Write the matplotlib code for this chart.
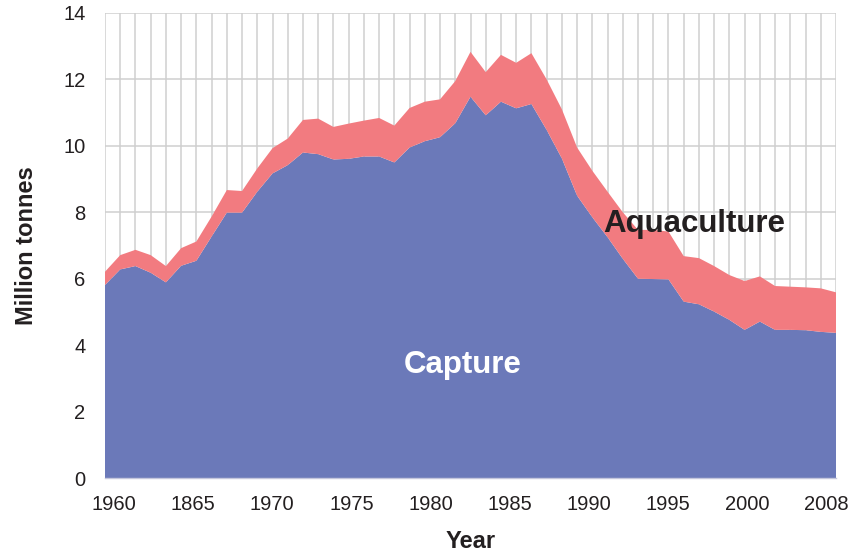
import numpy as np
import matplotlib
matplotlib.use("Agg")
import matplotlib.pyplot as plt

plt.rcParams['font.family'] = ['Liberation Sans', 'DejaVu Sans']

years = list(range(1960, 2009))
capture = [5.81, 6.28, 6.38, 6.18, 5.89, 6.39, 6.54, 7.27, 7.99, 7.99,
           8.62, 9.17, 9.42, 9.80, 9.75, 9.59, 9.61, 9.68, 9.68, 9.50,
           9.95, 10.14, 10.26, 10.68, 11.48, 10.92, 11.33, 11.13, 11.26, 10.48,
           9.62, 8.50, 7.85, 7.25, 6.60, 6.00, 5.99, 5.98, 5.31, 5.23,
           5.01, 4.76, 4.46, 4.71, 4.46, 4.46, 4.45, 4.40, 4.37]
aquaculture = [0.40, 0.43, 0.49, 0.53, 0.49, 0.53, 0.58, 0.60, 0.68, 0.65,
               0.70, 0.76, 0.80, 0.98, 1.07, 0.98, 1.06, 1.08, 1.16, 1.11,
               1.19, 1.19, 1.14, 1.27, 1.35, 1.30, 1.41, 1.37, 1.53, 1.52,
               1.48, 1.45, 1.40, 1.37, 1.40, 1.47, 1.48, 1.44, 1.37, 1.39,
               1.37, 1.35, 1.47, 1.36, 1.32, 1.30, 1.29, 1.31, 1.22]
x_tick_labels = ["1960", "1865", "1970", "1975", "1980", "1985",
                 "1990", "1995", "2000", "2008"]
y_ticks = [0, 2, 4, 6, 8, 10, 12, 14]

blue = "#6b79b9"
pink = "#f27b80"
grid_c = "#cfcfcf"
text_c = "#231f20"

fig = plt.figure(figsize=(8.55, 5.54), dpi=100)
ax = fig.add_axes([105/855, 1 - 478/554, (836-105)/855, (478-13)/554])

ax.stackplot(years, capture, aquaculture, colors=[blue, pink], linewidth=0, zorder=2)

ax.set_xlim(1960, 2008)
ax.set_ylim(0, 14)

# grid
ax.set_xticks(years, minor=True)
ax.grid(True, which='minor', axis='x', color=grid_c, lw=1.1, zorder=0)
ax.set_yticks(y_ticks)
ax.grid(True, which='major', axis='y', color=grid_c, lw=1.1, zorder=0)
ax.set_axisbelow(True)

xt = np.linspace(1960.57, 2007.39, len(x_tick_labels))
ax.set_xticks(xt)
ax.set_xticklabels(x_tick_labels)
ax.tick_params(axis='x', which='both', length=0, pad=12, labelsize=14.5, labelcolor=text_c)
ax.tick_params(axis='y', which='both', length=0, pad=14, labelsize=14.5, labelcolor=text_c)

for s in ['top', 'right', 'left']:
    ax.spines[s].set_visible(False)
ax.spines['bottom'].set_color("#c4c6dc")
ax.spines['bottom'].set_linewidth(1.0)
ax.spines['bottom'].set_zorder(3)

ax.set_xlabel("Year", fontsize=17, fontweight='bold', color=text_c, labelpad=12)
ax.set_ylabel("Million tonnes", fontsize=17, fontweight='bold', color=text_c, labelpad=18)

ax.text(1998.70, 7.42, "Aquaculture", fontsize=22.5, fontweight='bold',
        color=text_c, ha='center', va='baseline', zorder=5)
ax.text(1983.47, 3.15, "Capture", fontsize=22.5, fontweight='bold',
        color='white', ha='center', va='baseline', zorder=5)

fig.savefig("out.png", dpi=100)
